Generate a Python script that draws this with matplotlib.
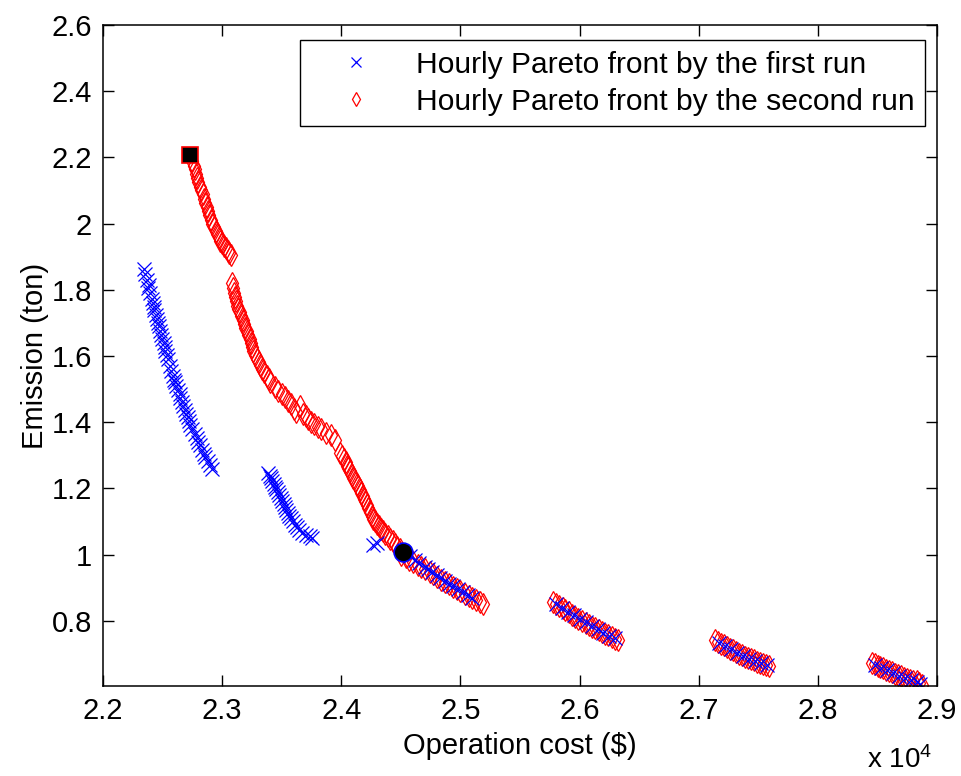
import numpy as np
import matplotlib
matplotlib.use("Agg")
import matplotlib.pyplot as plt
from matplotlib.ticker import FuncFormatter

plt.rcParams["font.family"] = ["Liberation Sans", "DejaVu Sans"]
plt.rcParams["mathtext.default"] = "regular"

# ---------------------------------------------------------------------------
# Hourly Pareto fronts: operation cost ($) vs emission (ton)
# ---------------------------------------------------------------------------
# first run (blue crosses)
run1_cost = [
    22340, 22352, 22371, 22385, 22380, 22398, 22410, 22418, 22431, 22428,
    22445, 22452, 22460, 22466, 22479, 22488, 22495, 22510, 22518, 22522,
    22540, 22548, 22560, 22570, 22585, 22598, 22606, 22615, 22630, 22642,
    22650, 22665, 22672, 22690, 22700, 22712, 22725, 22731, 22748, 22770,
    22785, 22798, 22810, 22832, 22845, 22860, 22880, 22900, 22918,
    23385, 23398, 23410, 23420, 23432, 23446, 23455, 23468, 23480, 23490,
    23502, 23515, 23525, 23538, 23550, 23562, 23575, 23592, 23608, 23625,
    23648, 23670, 23700, 23735, 23752,
    24269, 24300,
    24580, 24620, 24650, 24700, 24730, 24760, 24800, 24830, 24870, 24900,
    24940, 24980, 25020, 25060, 25100,
    25800, 25850, 25900, 25950, 26000, 26050, 26100, 26150, 26200, 26250, 26300,
    27170, 27220, 27270, 27320, 27370, 27420, 27470, 27520, 27570,
    28480, 28530, 28580, 28630, 28680, 28730, 28780, 28830, 28860,
]
run1_emis = [
    1.862, 1.848, 1.831, 1.814, 1.806, 1.790, 1.772, 1.760, 1.748, 1.738,
    1.725, 1.712, 1.700, 1.690, 1.676, 1.664, 1.652, 1.640, 1.628, 1.615,
    1.603, 1.590, 1.570, 1.556, 1.540, 1.528, 1.520, 1.508, 1.497, 1.486,
    1.474, 1.460, 1.449, 1.436, 1.424, 1.415, 1.403, 1.392, 1.380, 1.364,
    1.352, 1.340, 1.331, 1.316, 1.305, 1.294, 1.283, 1.272, 1.258,
    1.245, 1.238, 1.230, 1.221, 1.214, 1.205, 1.197, 1.188, 1.180, 1.171,
    1.162, 1.153, 1.145, 1.136, 1.127, 1.118, 1.110, 1.100, 1.090, 1.082,
    1.074, 1.066, 1.060, 1.056, 1.050,
    1.030, 1.036,
    0.995, 0.985, 0.975, 0.962, 0.955, 0.948, 0.938, 0.930, 0.920, 0.912,
    0.904, 0.895, 0.888, 0.879, 0.870,
    0.850, 0.840, 0.828, 0.817, 0.806, 0.795, 0.784, 0.774, 0.764, 0.755, 0.748,
    0.734, 0.724, 0.714, 0.704, 0.694, 0.686, 0.678, 0.671, 0.665,
    0.665, 0.657, 0.650, 0.642, 0.634, 0.627, 0.621, 0.615, 0.610,
]

# second run (red diamonds)
run2_cost = [
    22750, 22760, 22770, 22782, 22790, 22800, 22812, 22820, 22835, 22845,
    22858, 22870, 22880, 22892, 22905, 22918, 22930, 22945, 22958, 22970,
    22985, 23000, 23015, 23030, 23045, 23060, 23075,
    23080, 23090, 23098, 23105, 23112, 23125, 23135, 23150, 23160, 23172,
    23185, 23195, 23210, 23220, 23232, 23240, 23250, 23260, 23278, 23290,
    23305, 23320, 23336, 23350, 23372, 23390, 23405, 23440, 23470, 23500,
    23525, 23550, 23575, 23600, 23620, 23655, 23680, 23700, 23720, 23745,
    23770, 23800, 23830, 23870, 23910, 23950,
    23992, 24005, 24022, 24035, 24048, 24060, 24076, 24088, 24100, 24115,
    24128, 24143, 24155, 24168, 24180, 24192, 24202, 24215, 24228, 24240,
    24255, 24268, 24285, 24300, 24315, 24330, 24350, 24370, 24392, 24412,
    24430, 24450, 24471, 24490,
    24500, 24540, 24570, 24600, 24640, 24670, 24700, 24740, 24770, 24800,
    24840, 24870, 24900, 24940, 24970, 25000, 25040, 25070, 25100, 25130,
    25160, 25185,
    25780, 25800, 25830, 25860, 25880, 25910, 25940, 25960, 25990, 26020,
    26050, 26080, 26100, 26130, 26160, 26190, 26210, 26240, 26270, 26300, 26325,
    27140, 27165, 27190, 27210, 27235, 27260, 27285, 27310, 27335, 27360,
    27385, 27410, 27435, 27460, 27485, 27510, 27535, 27560, 27590,
    28450, 28475, 28500, 28520, 28545, 28570, 28595, 28620, 28645, 28670,
    28695, 28720, 28745, 28770, 28800, 28830, 28850, 28870,
]
run2_emis = [
    2.190, 2.175, 2.165, 2.150, 2.138, 2.125, 2.112, 2.100, 2.088, 2.075,
    2.062, 2.050, 2.038, 2.025, 2.012, 2.000, 1.990, 1.978, 1.968, 1.958,
    1.948, 1.940, 1.932, 1.925, 1.918, 1.912, 1.906,
    1.820, 1.805, 1.790, 1.778, 1.765, 1.752, 1.742, 1.732, 1.720, 1.708,
    1.696, 1.686, 1.676, 1.664, 1.650, 1.640, 1.628, 1.615, 1.602, 1.592,
    1.582, 1.572, 1.562, 1.552, 1.540, 1.530, 1.522, 1.505, 1.493, 1.484,
    1.476, 1.464, 1.454, 1.440, 1.432, 1.448, 1.425, 1.418, 1.410, 1.400,
    1.395, 1.386, 1.378, 1.368, 1.360, 1.345,
    1.308, 1.298, 1.290, 1.280, 1.268, 1.262, 1.252, 1.240, 1.232, 1.222,
    1.214, 1.206, 1.195, 1.185, 1.176, 1.168, 1.161, 1.150, 1.140, 1.130,
    1.118, 1.108, 1.100, 1.092, 1.085, 1.078, 1.070, 1.062, 1.055, 1.048,
    1.040, 1.032, 1.024, 1.016,
    1.000, 0.992, 0.985, 0.978, 0.970, 0.962, 0.955, 0.946, 0.940, 0.933,
    0.924, 0.917, 0.910, 0.902, 0.896, 0.890, 0.882, 0.875, 0.868, 0.862,
    0.856, 0.851,
    0.858, 0.852, 0.846, 0.838, 0.832, 0.826, 0.818, 0.812, 0.806, 0.800,
    0.794, 0.788, 0.782, 0.778, 0.772, 0.766, 0.760, 0.756, 0.750, 0.746, 0.742,
    0.742, 0.737, 0.731, 0.727, 0.722, 0.716, 0.712, 0.706, 0.701, 0.696,
    0.692, 0.688, 0.684, 0.680, 0.676, 0.673, 0.669, 0.666, 0.663,
    0.672, 0.668, 0.664, 0.660, 0.656, 0.652, 0.648, 0.644, 0.640, 0.636,
    0.632, 0.628, 0.625, 0.622, 0.619, 0.617, 0.613, 0.607,
]

# highlighted solutions
square_pt = (22731, 2.206)
circle_pt = (24521, 1.009)

x_ticks = [22000, 23000, 24000, 25000, 26000, 27000, 28000, 29000]
y_ticks = [0.8, 1.0, 1.2, 1.4, 1.6, 1.8, 2.0, 2.2, 2.4, 2.6]

# ---------------------------------------------------------------------------
# plot
# ---------------------------------------------------------------------------
FS = 21
fig = plt.figure(figsize=(9.62, 7.76), dpi=100)
ax = fig.add_axes([0.1071, 0.116, 0.867, 0.8518])

h2, = ax.plot(run2_cost, run2_emis, "d", color="red", mfc="none",
              ms=11, mew=0.9, label="Hourly Pareto front by the second run")
h1, = ax.plot(run1_cost, run1_emis, "x", color="blue",
              ms=10, mew=0.9, label="Hourly Pareto front by the first run")
ax.plot(*square_pt, "s", mfc="black", mec="red", ms=11.5, mew=1.2)
ax.plot(*circle_pt, "o", mfc="black", mec="blue", ms=13.5, mew=1.2)

ax.set_xlim(22000, 29000)
ax.set_ylim(0.603, 2.6)
ax.set_xticks(x_ticks)
ax.set_yticks(y_ticks)
ax.xaxis.set_major_formatter(FuncFormatter(lambda v, p: f"{v/1e4:g}"))
ax.yaxis.set_major_formatter(FuncFormatter(lambda v, p: f"{v:g}"))
ax.tick_params(direction="in", length=8, width=1, labelsize=FS,
               top=True, right=True, pad=8)
for s in ax.spines.values():
    s.set_linewidth(1.1)

ax.set_xlabel("Operation cost ($)", fontsize=FS, labelpad=5)
ax.set_ylabel("Emission (ton)", fontsize=FS, labelpad=2)
fig.text(0.901, 0.003, "x 10$^{4}$", fontsize=20, ha="left", va="bottom")

leg = ax.legend(handles=[h1, h2], loc="upper right",
                bbox_to_anchor=(0.9856, 0.977), borderaxespad=0,
                fontsize=21.6, fancybox=False, edgecolor="black",
                framealpha=1, markerscale=0.65, handlelength=3.0,
                borderpad=0.35, labelspacing=0.3, handletextpad=0.5)
leg.get_frame().set_linewidth(1.0)

fig.savefig("out.png", dpi=100)
